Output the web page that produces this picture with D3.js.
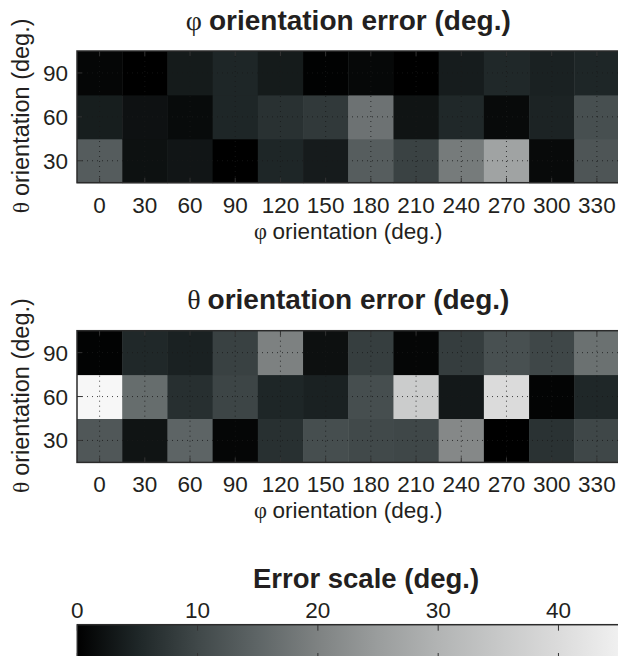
<!DOCTYPE html>
<html>
<head>
<meta charset="utf-8">
<script src="https://cdn.jsdelivr.net/npm/d3@7"></script>
<style>
  html, body { margin: 0; padding: 0; background: #fff; }
  svg { display: block; font-family: "Liberation Sans", Arial, Helvetica, sans-serif; }
  .greek { font-family: "Liberation Serif", "DejaVu Serif", serif; font-weight: normal; }
</style>
</head>
<body>
<div id="chart"></div>
<script>
/* ── orientation error heatmaps + colour scale ───────────── */

const phiAngles   = [0, 30, 60, 90, 120, 150, 180, 210, 240, 270, 300, 330];
const thetaAngles = [30, 60, 90];

// phi orientation error (deg.), one array per theta row
const phiErr90 = [0.8, 0.0, 3.5, 5.0, 3.5, 0.2, 1.0, 0.0, 3.7, 5.3, 4.3, 5.0];
const phiErr60 = [3.9, 2.3, 1.4, 5.0, 6.6, 7.8, 17.3, 2.6, 5.3, 1.3, 4.6, 11.2];
const phiErr30 = [13.5, 2.2, 2.8, 0.0, 5.0, 3.6, 13.7, 9.1, 18.8, 26.2, 1.3, 12.3];

// theta orientation error (deg.)
const thetaErr90 = [0.4, 5.3, 4.4, 9.0, 19.9, 2.1, 8.6, 0.8, 8.4, 11.3, 9.9, 17.0];
const thetaErr60 = [47.0, 16.3, 6.3, 9.6, 5.0, 4.3, 11.0, 36.0, 3.2, 40.0, 0.5, 5.1];
const thetaErr30 = [12.6, 2.6, 14.8, 0.8, 6.5, 11.0, 10.2, 9.9, 21.2, 0.0, 6.8, 9.8];

const scaleTicks = [0, 10, 20, 30, 40];
const scaleMax   = 48;

// colormap (slightly cyan-tinted grey)
const cmapDomain = [0, 5, 10, 15, 20, 25, 30, 35, 40, 45, 48];
const cmapRange  = ['#000000', '#1e2627', '#404849', '#5e6566', '#7e8282', '#9a9d9d',
                    '#b2b4b4', '#c7c8c8', '#dbdbdb', '#f0f0f0', '#fbfbfb'];

const W = 618, H = 656;
const ink = '#231f20';
const tickFont = 22.5;

const color = d3.scaleLinear().domain(cmapDomain).range(cmapRange).clamp(true);

const svg = d3.select('#chart').append('svg')
  .attr('width', W)
  .attr('height', H);

function toRows(r90, r60, r30) {
  const rows = { 90: r90, 60: r60, 30: r30 };
  const cells = [];
  thetaAngles.forEach(t => {
    phiAngles.forEach((p, i) => cells.push({ phi: p, theta: t, v: rows[t][i] }));
  });
  return cells;
}

function drawPanel(offY, titleGreek, titleRest, cells) {
  const left = 77, right = 619.5, top = 51 + offY, bottom = 182.7 + offY;
  const cx = (left + right) / 2;

  const x = d3.scaleLinear().domain([-15, 345]).range([left, right]);
  const y = d3.scaleLinear().domain([15, 105]).range([bottom, top]);

  const g = svg.append('g');

  // cells
  g.selectAll('rect.cell')
    .data(cells)
    .join('rect')
    .attr('class', 'cell')
    .attr('x', d => x(d.phi - 15))
    .attr('y', d => y(d.theta + 15))
    .attr('width', d => x(d.phi + 15) - x(d.phi - 15) + 0.5)
    .attr('height', d => y(d.theta - 15) - y(d.theta + 15) + 0.5)
    .attr('fill', d => color(d.v));

  // dotted grid
  g.append('g')
    .selectAll('line')
    .data(phiAngles)
    .join('line')
    .attr('x1', d => x(d)).attr('x2', d => x(d))
    .attr('y1', top).attr('y2', bottom)
    .attr('stroke', '#1a1a1a')
    .attr('stroke-width', 1)
    .attr('stroke-dasharray', '1,4')
    .attr('opacity', 0.8);

  g.append('g')
    .selectAll('line')
    .data(thetaAngles)
    .join('line')
    .attr('x1', left).attr('x2', right)
    .attr('y1', d => y(d)).attr('y2', d => y(d))
    .attr('stroke', '#1a1a1a')
    .attr('stroke-width', 1)
    .attr('stroke-dasharray', '1,4')
    .attr('opacity', 0.8);

  // inward ticks
  const tk = 5;
  phiAngles.forEach(p => {
    g.append('line').attr('x1', x(p)).attr('x2', x(p)).attr('y1', bottom).attr('y2', bottom - tk)
      .attr('stroke', '#333').attr('stroke-width', 1);
    g.append('line').attr('x1', x(p)).attr('x2', x(p)).attr('y1', top).attr('y2', top + tk)
      .attr('stroke', '#333').attr('stroke-width', 1);
  });
  thetaAngles.forEach(t => {
    g.append('line').attr('x1', left).attr('x2', left + tk).attr('y1', y(t)).attr('y2', y(t))
      .attr('stroke', '#333').attr('stroke-width', 1);
  });

  // box
  g.append('rect')
    .attr('x', left).attr('y', top)
    .attr('width', right - left).attr('height', bottom - top)
    .attr('fill', 'none')
    .attr('stroke', '#2b2b2b')
    .attr('stroke-width', 1.5);

  // tick labels
  g.append('g')
    .selectAll('text')
    .data(phiAngles)
    .join('text')
    .attr('x', d => x(d))
    .attr('y', bottom + 30)
    .attr('text-anchor', 'middle')
    .attr('font-size', tickFont)
    .attr('fill', ink)
    .text(d => d);

  g.append('g')
    .selectAll('text')
    .data(thetaAngles)
    .join('text')
    .attr('x', left - 9)
    .attr('y', d => y(d) + 8)
    .attr('text-anchor', 'end')
    .attr('font-size', tickFont)
    .attr('fill', ink)
    .text(d => d);

  // title
  const title = g.append('text')
    .attr('x', cx)
    .attr('y', 29.5 + offY)
    .attr('text-anchor', 'middle')
    .attr('font-size', 28)
    .attr('font-weight', 'bold')
    .attr('fill', ink);
  title.append('tspan').attr('class', 'greek').text(titleGreek + ' ');
  title.append('tspan').text(titleRest);

  // x label
  const xl = g.append('text')
    .attr('x', cx)
    .attr('y', bottom + 56)
    .attr('text-anchor', 'middle')
    .attr('font-size', 22.5)
    .attr('fill', ink);
  xl.append('tspan').attr('class', 'greek').text('φ ');
  xl.append('tspan').text('orientation (deg.)');

  // y label
  const yl = g.append('text')
    .attr('transform', `translate(29,${(top + bottom) / 2 - 1}) rotate(-90)`)
    .attr('text-anchor', 'middle')
    .attr('font-size', 23.5)
    .attr('fill', ink);
  yl.append('tspan').attr('class', 'greek').text('θ ');
  yl.append('tspan').text('orientation (deg.)');
}

drawPanel(0, 'φ', 'orientation error (deg.)', toRows(phiErr90, phiErr60, phiErr30));
drawPanel(279.7, 'θ', 'orientation error (deg.)', toRows(thetaErr90, thetaErr60, thetaErr30));

// ── colour scale ──
const cb = { left: 77.3, right: 654.7, top: 624.7, bottom: 659 };
const cbx = d3.scaleLinear().domain([0, scaleMax]).range([cb.left, cb.right]);

const grad = svg.append('defs').append('linearGradient')
  .attr('id', 'cbgrad')
  .attr('x1', '0%').attr('x2', '100%').attr('y1', '0%').attr('y2', '0%');
grad.selectAll('stop')
  .data(cmapDomain)
  .join('stop')
  .attr('offset', d => (d / scaleMax * 100) + '%')
  .attr('stop-color', d => color(d));

svg.append('rect')
  .attr('x', cb.left).attr('y', cb.top)
  .attr('width', cb.right - cb.left).attr('height', cb.bottom - cb.top)
  .attr('fill', 'url(#cbgrad)')
  .attr('stroke', '#2b2b2b')
  .attr('stroke-width', 1.5);

svg.append('g')
  .selectAll('line')
  .data(scaleTicks)
  .join('line')
  .attr('x1', d => cbx(d)).attr('x2', d => cbx(d))
  .attr('y1', cb.top).attr('y2', cb.top + 6)
  .attr('stroke', '#333').attr('stroke-width', 1);

svg.append('g')
  .selectAll('line')
  .data(scaleTicks)
  .join('line')
  .attr('x1', d => cbx(d)).attr('x2', d => cbx(d))
  .attr('y1', cb.bottom).attr('y2', cb.bottom - 6)
  .attr('stroke', '#333').attr('stroke-width', 1);

svg.append('g')
  .selectAll('text')
  .data(scaleTicks)
  .join('text')
  .attr('x', d => cbx(d))
  .attr('y', 618)
  .attr('text-anchor', 'middle')
  .attr('font-size', tickFont)
  .attr('fill', ink)
  .text(d => d);

svg.append('text')
  .attr('x', (cb.left + cb.right) / 2)
  .attr('y', 587.7)
  .attr('text-anchor', 'middle')
  .attr('font-size', 27.5)
  .attr('font-weight', 'bold')
  .attr('fill', ink)
  .text('Error scale (deg.)');
</script>
</body>
</html>
